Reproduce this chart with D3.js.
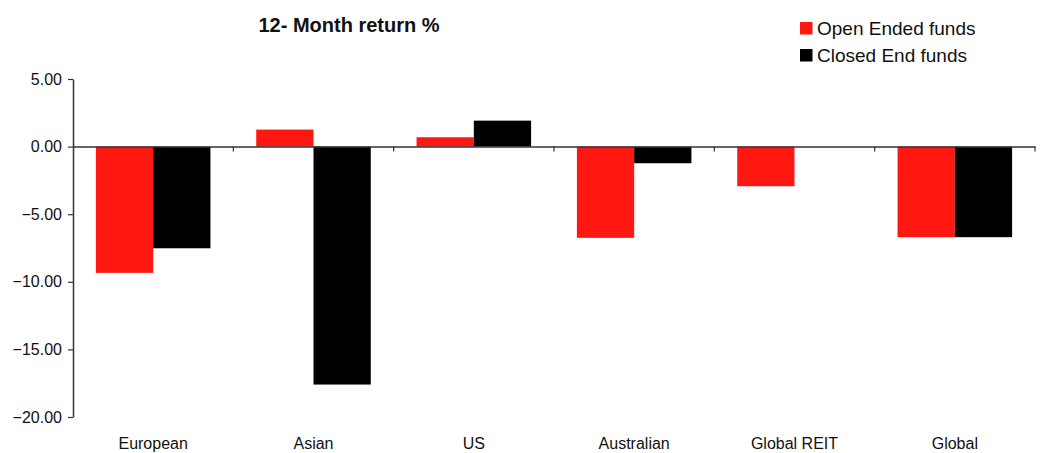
<!DOCTYPE html>
<html>
<head>
<meta charset="utf-8">
<script src="https://cdn.jsdelivr.net/npm/d3@7"></script>
<style>
  body { margin: 0; background: #fff; }
  text { font-family: Arial, "Liberation Sans", sans-serif; fill: #111; }
</style>
</head>
<body>
<svg id="chart"></svg>
<script>
// Data
const categories = ['European', 'Asian', 'US', 'Australian', 'Global REIT', 'Global'];
const seriesNames = ['Open Ended funds', 'Closed End funds'];
const openEnded = [-9.34, 1.26, 0.69, -6.75, -2.93, -6.70];
const closedEnd = [-7.52, -17.6, 1.92, -1.23, 0, -6.70];
const yTicks = [5, 0, -5, -10, -15, -20];
const colors = ['#ff1711', '#000000'];

const width = 1042, height = 453;
const margin = {top: 79, right: 7, bottom: 36, left: 73};

const svg = d3.select('#chart')
    .attr('width', width)
    .attr('height', height);

const x = d3.scaleBand()
    .domain(categories)
    .range([margin.left, width - margin.right])
    .paddingInner(0)
    .paddingOuter(0);

const xInner = d3.scaleBand()
    .domain(seriesNames)
    .range([0, x.bandwidth()])
    .paddingOuter(0.4)
    .paddingInner(0);

const y = d3.scaleLinear()
    .domain([-20, 5])
    .range([height - margin.bottom, margin.top]);

// Bars
const rows = categories.map((c, i) => ({cat: c, vals: [openEnded[i], closedEnd[i]]}));
const groups = svg.append('g')
    .selectAll('g')
    .data(rows)
    .enter()
    .append('g')
    .attr('transform', d => `translate(${x(d.cat)},0)`);

groups.selectAll('rect')
    .data(d => d.vals.map((v, j) => ({name: seriesNames[j], v: v, j: j})))
    .enter()
    .append('rect')
    .attr('x', d => xInner(d.name))
    .attr('width', xInner.bandwidth())
    .attr('y', d => y(Math.max(0, d.v)))
    .attr('height', d => Math.abs(y(d.v) - y(0)))
    .attr('fill', d => colors[d.j]);

// Y axis
const yAxis = svg.append('g')
    .attr('transform', `translate(${margin.left},0)`)
    .call(d3.axisLeft(y).tickValues(yTicks).tickFormat(d3.format('.2f')).tickSize(5).tickSizeOuter(0).tickPadding(6));
yAxis.select('.domain').attr('stroke', '#333').attr('stroke-width', 1.5);
yAxis.selectAll('.tick line').attr('stroke', '#333').attr('stroke-width', 1.2);
yAxis.selectAll('.tick text')
    .attr('font-size', 16)
    .attr('fill', '#111')
    .attr('font-family', 'Arial, "Liberation Sans", sans-serif');

// Zero line with category ticks
const xAxis = svg.append('g')
    .attr('transform', `translate(0,${y(0)})`)
    .call(d3.axisBottom(x).tickSize(0).tickFormat(''));
xAxis.select('.domain').attr('stroke', '#333').attr('stroke-width', 1.5);
xAxis.selectAll('.tick').remove();

svg.append('g')
    .selectAll('line')
    .data(categories)
    .enter()
    .append('line')
    .attr('x1', d => x(d) + x.bandwidth())
    .attr('x2', d => x(d) + x.bandwidth())
    .attr('y1', y(0))
    .attr('y2', y(0) + 5)
    .attr('stroke', '#333')
    .attr('stroke-width', 1.2);

// Category labels
svg.append('g')
    .selectAll('text')
    .data(categories)
    .enter()
    .append('text')
    .attr('x', d => x(d) + x.bandwidth() / 2)
    .attr('y', 449)
    .attr('text-anchor', 'middle')
    .attr('font-size', 16)
    .text(d => d);

// Title
svg.append('text')
    .attr('x', 349)
    .attr('y', 32)
    .attr('text-anchor', 'middle')
    .attr('font-size', 20)
    .attr('font-weight', 'bold')
    .text('12- Month return %');

// Legend
const legend = svg.append('g')
    .attr('transform', 'translate(800,22)');
const item = legend.selectAll('g')
    .data(seriesNames)
    .enter()
    .append('g')
    .attr('transform', (d, i) => `translate(0,${i * 27})`);
item.append('rect')
    .attr('width', 12.5)
    .attr('height', 12.5)
    .attr('fill', (d, i) => colors[i]);
item.append('text')
    .attr('x', 17)
    .attr('y', 13)
    .attr('font-size', 19)
    .text(d => d);
</script>
</body>
</html>
